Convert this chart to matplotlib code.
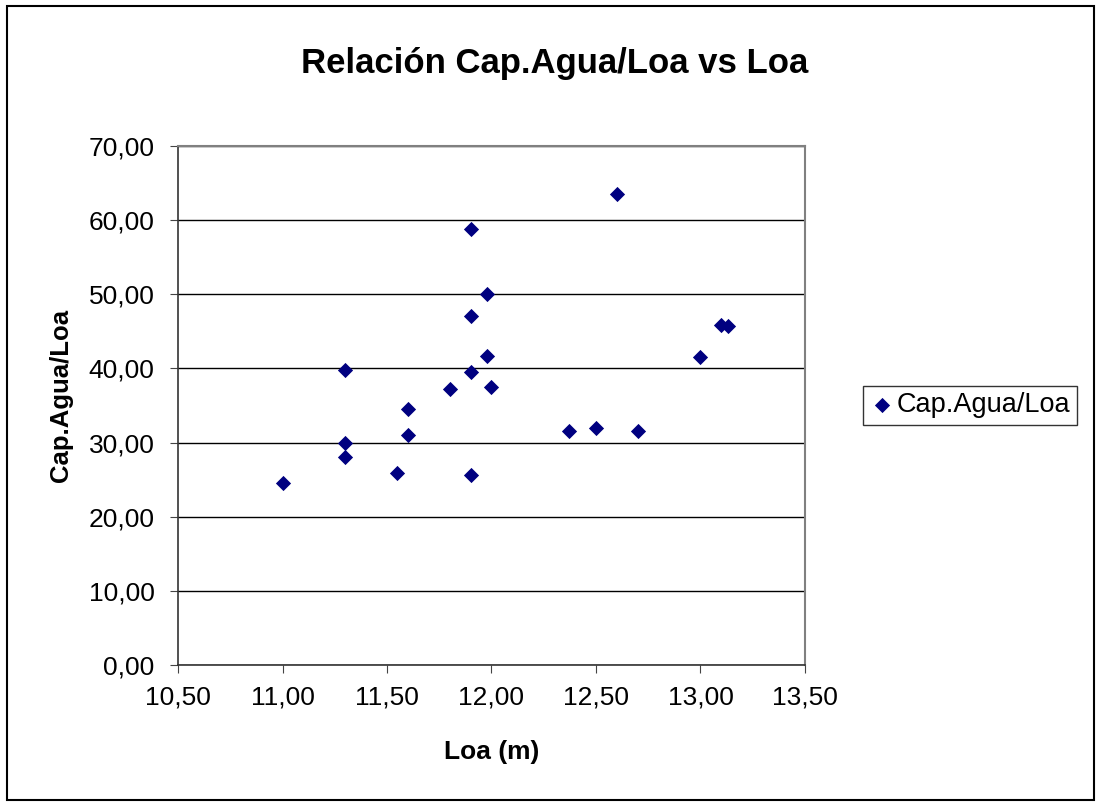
import matplotlib.pyplot as plt
from matplotlib.patches import Rectangle
from matplotlib.ticker import FuncFormatter

plt.rcParams['font.family'] = ['Liberation Sans', 'DejaVu Sans']

# Eslora total (m) y relación capacidad de agua / eslora
loa = [11.00, 11.30, 11.30, 11.30, 11.55, 11.60, 11.60, 11.80, 11.90, 11.98,
       12.00, 11.90, 11.90, 11.98, 11.90, 12.60, 13.10, 13.13, 13.00, 12.37,
       12.50, 12.70]
cap_agua_loa = [24.5, 39.8, 30.0, 28.1, 25.9, 34.5, 31.0, 37.2, 39.5, 41.7,
                37.5, 25.6, 58.8, 50.0, 47.1, 63.5, 45.8, 45.7, 41.5, 31.5,
                32.0, 31.5]

fig = plt.figure(figsize=(11.01, 8.06), dpi=100)
ax = fig.add_axes([0.1617, 0.1749, 0.5694, 0.644])

ax.scatter(loa, cap_agua_loa, marker='D', s=60, color='#000080',
           label='Cap.Agua/Loa', zorder=3, linewidths=0)

ax.set_xlim(10.5, 13.5)
ax.set_ylim(0, 70)
ax.set_xticks([10.5, 11.0, 11.5, 12.0, 12.5, 13.0, 13.5])
ax.set_yticks(range(0, 71, 10))
comma = FuncFormatter(lambda v, p: f"{v:.2f}".replace('.', ','))
ax.xaxis.set_major_formatter(comma)
ax.yaxis.set_major_formatter(comma)
ax.tick_params(labelsize=19, direction='out', length=6, color='#444444')
ax.tick_params(axis='y', pad=11)
ax.tick_params(axis='x', pad=9)
ax.grid(axis='y', color='black', lw=1)
ax.set_axisbelow(True)
for s in ['top', 'right']:
    ax.spines[s].set_color('#808080')
    ax.spines[s].set_linewidth(1.5)
for s in ['left', 'bottom']:
    ax.spines[s].set_color('#333333')
    ax.spines[s].set_linewidth(1.2)

fig.text(492 / 1101, 1 - 752 / 806, 'Loa (m)', fontsize=19, fontweight='bold',
         ha='center', va='center')
fig.text(61 / 1101, 1 - 395 / 806, 'Cap.Agua/Loa', fontsize=18.5, fontweight='bold',
         ha='center', va='center', rotation=90)
fig.text(555 / 1101, 1 - 73 / 806, 'Relación Cap.Agua/Loa vs Loa', fontsize=25,
         fontweight='bold', ha='center', va='baseline')

leg = ax.legend(loc='center left', bbox_to_anchor=(863 / 1101, 1 - 405.5 / 806),
                bbox_transform=fig.transFigure, fontsize=19.5,
                frameon=True, fancybox=False, handletextpad=0.1,
                borderpad=0.25, handlelength=0.9, borderaxespad=0)
leg.get_frame().set_edgecolor('black')
leg.get_frame().set_linewidth(1)

fig.patches.append(Rectangle((0.006, 0.007), 0.988, 0.986, transform=fig.transFigure,
                             fill=False, edgecolor='black', lw=1.5))

fig.savefig('out.png', dpi=100)
